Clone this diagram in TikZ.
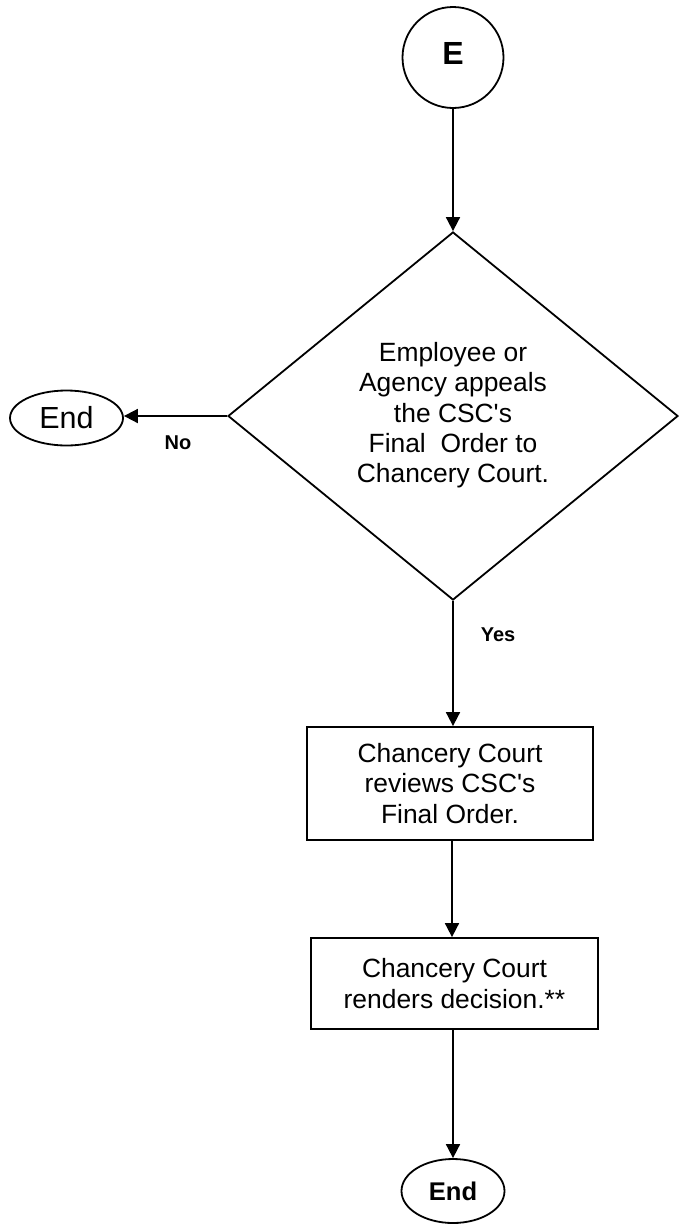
\documentclass[tikz,border=0pt]{standalone}
\usepackage{fontspec}
\setmainfont{Liberation Sans}
\usetikzlibrary{shapes.geometric,arrows.meta}
\newcommand{\apos}{\textquotesingle}
\begin{document}
\begin{tikzpicture}[x=1pt,y=-1pt,
  every node/.style={line width=1.8pt, inner sep=0pt, align=center},
  bodytext/.style={font=\fontsize{26.4}{30.4}\selectfont},
  connector/.style={line width=1.8pt, -{Triangle[length=14pt,width=14pt]}},
  branchlabel/.style={font=\fontsize{20}{24}\selectfont\bfseries},
  stepbox/.style={draw, rectangle, bodytext},
  decision/.style={draw, diamond, bodytext, minimum width=450pt, minimum height=368pt, aspect=1.22},
  terminal/.style={draw, ellipse}]
\useasboundingbox (0,0) rectangle (678,1224);

% connector node
\node[draw, circle, minimum size=101pt, font=\fontsize{32}{36}\selectfont\bfseries]
  (E) at (453,57.5) {\raisebox{9pt}{E}};

% appeal decision
\node[decision] (D) at (453,416)
  {\raisebox{-6pt}{\begin{tabular}{@{}c@{}}Employee or\\Agency appeals\\the CSC\apos s\\Final\ \ Order to\\Chancery Court.\end{tabular}}};

% "No" branch
\node[terminal, minimum width=113pt, minimum height=55pt,
      font=\fontsize{30.5}{34}\selectfont] (endL) at (66.5,418) {End};

% court steps
\node[stepbox, minimum width=286pt, minimum height=113pt] (B1) at (450,783.5)
  {Chancery Court\\reviews CSC\apos s\\Final Order.};
\node[stepbox, minimum width=287pt, minimum height=91pt] (B2) at (454.5,983.5)
  {Chancery Court\\renders decision.**};

% final terminal
\node[terminal, minimum width=103pt, minimum height=64pt,
      font=\fontsize{25.6}{30}\selectfont\bfseries] (endB) at (453,1191) {End};

% branch labels
\node[branchlabel] (no) at (178,443) {No};
\node[branchlabel] (yes) at (498,635) {Yes};

% connectors
\draw[connector] (E.south) -- (D.north);
\draw[connector] (D.west) -- (endL.east |- D.west);
\draw[connector] (D.south) -- (D.south |- B1.north);
\draw[connector] ([xshift=2pt]B1.south) -- ([xshift=2pt]B1.south |- B2.north);
\draw[connector] (endB.north |- B2.south) -- (endB.north);
\end{tikzpicture}
\end{document}
